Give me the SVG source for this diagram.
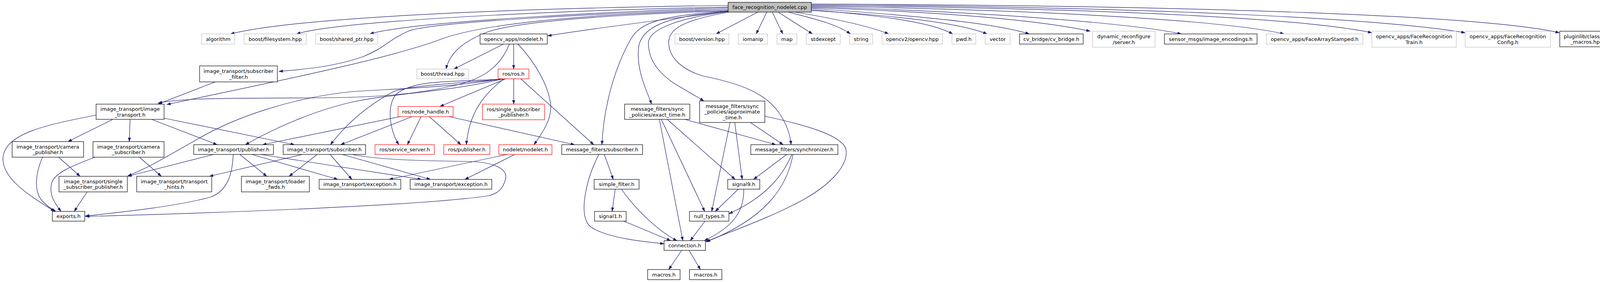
<svg xmlns="http://www.w3.org/2000/svg" width="4141" height="723" viewBox="0 0 4141 723">
<style>
rect{stroke-width:1.2}
.n{fill:#fff;stroke:#000}
.g{fill:#fff;stroke:#bfbfbf}
.r{fill:#fff;stroke:#ff0000}
.root{fill:#bfbfbf;stroke:#000}
text{font-family:"DejaVu Sans","Liberation Sans",sans-serif;font-size:13px;fill:#000;text-anchor:middle}
#edges path{fill:none;stroke:#191970;stroke-width:1.2;marker-end:url(#ah)}
</style>
<defs>
<marker id="ah" markerUnits="userSpaceOnUse" markerWidth="11" markerHeight="8" refX="10" refY="3.5" orient="auto">
<path d="M0,0 L10,3.5 L0,7 z" fill="#191970" stroke="#191970" stroke-width="0.5"/>
</marker>
</defs>
<rect width="4141" height="723" fill="#fff"/>
<g id="edges">
<path d="M1864,14 C1400,20 780,40 590,87"/>
<path d="M1864,18 C1500,25 880,50 759,87"/>
<path d="M1864,20 C1600,28 1050,55 947,87"/>
<path d="M1864,29 C1700,50 1500,75 1402,92"/>
<path d="M1864,23 C1600,32 1100,55 1045,80 C990,105 990,120 930,145 C860,170 780,178 714,183"/>
<path d="M1864,26 C1500,36 1240,60 1130,100 C1000,150 700,210 427,268"/>
<path d="M1864,28 C1500,40 1300,60 1240,85 C1180,110 1150,140 1142,177"/>
<path d="M1864,28 C1700,40 1640,55 1615,100 C1570,180 1545,280 1541,371"/>
<path d="M1866,29 C1730,40 1645,60 1635,120 C1628,180 1655,230 1668,267"/>
<path d="M1866,30 C1740,45 1660,75 1660,110 C1660,150 1680,180 1720,210 C1760,235 1785,248 1802,259"/>
<path d="M1866,31 C1760,50 1715,70 1712,105 C1710,150 1750,180 1800,195 C1900,215 1960,240 1995,290 C2015,320 2023,345 2025,371"/>
<path d="M1940,31 L1833,87"/>
<path d="M1963,31 L1936,87"/>
<path d="M1977,31 L2004,87"/>
<path d="M1992,31 L2080,87"/>
<path d="M2018,31 C2070,45 2140,60 2177,87"/>
<path d="M2035,31 C2120,45 2220,65 2275,87"/>
<path d="M2077,25 C2250,40 2380,55 2439,87"/>
<path d="M2077,27 C2300,40 2460,60 2527,87"/>
<path d="M2077,22 C2350,40 2550,60 2635,87"/>
<path d="M2077,20 C2400,30 2650,50 2791,80"/>
<path d="M2077,18 C2500,28 2900,60 3024,87"/>
<path d="M2077,16 C2700,25 3150,55 3287,87"/>
<path d="M2077,14 C2900,22 3350,50 3512,84"/>
<path d="M2077,12 C3000,18 3550,50 3751,84"/>
<path d="M2077,10 C3100,15 3800,40 3992,84"/>
<path d="M551,210 L404,267"/>
<path d="M1304,113 C1280,175 1230,205 1160,220 C1050,245 950,250 800,251 C600,252 480,250 405,264"/>
<path d="M1289,113 L1162,177"/>
<path d="M1315,113 L1315,177"/>
<path d="M1326,113 C1370,160 1405,220 1410,270 C1412,310 1385,345 1367,371"/>
<path d="M1283,202 C1150,225 1000,228 900,235 C750,250 600,300 500,360 C420,405 380,430 327,451"/>
<path d="M1285,203 C1150,235 1000,240 900,262 C800,285 700,330 628,371"/>
<path d="M1287,203 C1150,215 1050,220 1009,234 C960,260 900,300 846,371"/>
<path d="M1287,203 C1150,210 1060,205 1016,240 C990,265 995,330 1021,371"/>
<path d="M1295,202 L1126,273"/>
<path d="M1315,202 L1315,267"/>
<path d="M1290,202 C1240,240 1200,290 1194,371"/>
<path d="M1333,202 L1520,371"/>
<path d="M1024,299 L672,371"/>
<path d="M1055,299 L872,371"/>
<path d="M1078,299 L1043,371"/>
<path d="M1099,299 L1180,371"/>
<path d="M1150,299 L1471,371"/>
<path d="M246,295 C120,320 20,340 8,400 C0,460 90,510 140,542"/>
<path d="M289,306 L174,363"/>
<path d="M333,306 L331,363"/>
<path d="M388,306 L556,371"/>
<path d="M420,303 L754,371"/>
<path d="M109,403 C92,440 85,490 108,515 C120,528 130,535 143,542"/>
<path d="M150,403 L205,452"/>
<path d="M243,403 C200,420 140,440 132,470 C125,500 140,520 156,542"/>
<path d="M357,403 L413,452"/>
<path d="M223,492 L190,542"/>
<path d="M547,396 L327,452"/>
<path d="M597,396 C595,450 580,490 540,505 C450,530 300,545 218,554"/>
<path d="M614,396 L683,452"/>
<path d="M645,396 L865,460"/>
<path d="M667,396 L1079,460"/>
<path d="M774,396 L536,452"/>
<path d="M812,396 L740,452"/>
<path d="M845,396 L901,460"/>
<path d="M876,396 L1102,460"/>
<path d="M901,396 C960,408 1050,412 1200,414 C1280,416 1300,440 1294,460 C1288,480 1280,495 1250,502 C1100,525 600,545 219,555"/>
<path d="M1298,396 L996,460"/>
<path d="M1318,396 L1190,460"/>
<path d="M1533,396 C1500,460 1480,550 1510,580 C1550,610 1650,620 1700,625"/>
<path d="M1547,396 L1570,460"/>
<path d="M1575,485 L1567,542"/>
<path d="M1591,485 C1640,555 1700,600 1733,617"/>
<path d="M1597,567 L1717,617"/>
<path d="M1890,485 L1831,542"/>
<path d="M1904,485 C1905,540 1880,580 1803,617"/>
<path d="M1805,567 L1767,617"/>
<path d="M1745,642 L1712,691"/>
<path d="M1764,642 L1793,691"/>
<path d="M1688,306 L1748,617"/>
<path d="M1693,306 L1804,542"/>
<path d="M1708,306 L1882,460"/>
<path d="M1753,306 L1986,371"/>
<path d="M1869,314 L1822,542"/>
<path d="M1881,314 L1900,460"/>
<path d="M1921,314 L2005,371"/>
<path d="M1958,298 C2060,320 2150,345 2165,380 C2175,420 2130,470 2060,510 C1980,555 1880,590 1806,620"/>
<path d="M2014,396 L1929,460"/>
<path d="M2027,396 C2000,460 1950,510 1866,548"/>
<path d="M2030,396 C2015,480 1960,560 1808,620"/>
</g>
<g id="node-root"><rect class="root" x="1864" y="6" width="213" height="25"/><text x="1970.5" y="23">face_recognition_nodelet.cpp</text></g>
<g id="node-algorithm"><rect class="g" x="516" y="87" width="85" height="26"/><text x="558.5" y="104.5">algorithm</text></g>
<g id="node-filesystem"><rect class="g" x="625" y="87" width="159" height="26"/><text x="704.5" y="104.5">boost/filesystem.hpp</text></g>
<g id="node-shared-ptr"><rect class="g" x="808" y="87" width="159" height="26"/><text x="887.5" y="104.5">boost/shared_ptr.hpp</text></g>
<g id="node-opencv-nodelet"><rect class="n" x="1229" y="87" width="172" height="26"/><text x="1315" y="104.5">opencv_apps/nodelet.h</text></g>
<g id="node-boost-version"><rect class="g" x="1728" y="87" width="138" height="26"/><text x="1797" y="104.5">boost/version.hpp</text></g>
<g id="node-iomanip"><rect class="g" x="1890" y="87" width="75" height="26"/><text x="1927.5" y="104.5">iomanip</text></g>
<g id="node-map"><rect class="g" x="1989" y="87" width="51" height="26"/><text x="2014.5" y="104.5">map</text></g>
<g id="node-stdexcept"><rect class="g" x="2064" y="87" width="87" height="26"/><text x="2107.5" y="104.5">stdexcept</text></g>
<g id="node-string"><rect class="g" x="2175" y="87" width="59" height="26"/><text x="2204.5" y="104.5">string</text></g>
<g id="node-opencv2"><rect class="g" x="2258" y="87" width="155" height="26"/><text x="2335.5" y="104.5">opencv2/opencv.hpp</text></g>
<g id="node-pwd"><rect class="g" x="2437" y="87" width="61" height="26"/><text x="2467.5" y="104.5">pwd.h</text></g>
<g id="node-vector"><rect class="g" x="2522" y="87" width="64" height="26"/><text x="2554" y="104.5">vector</text></g>
<g id="node-cv-bridge"><rect class="n" x="2610" y="87" width="163" height="26"/><text x="2691.5" y="104.5">cv_bridge/cv_bridge.h</text></g>
<g id="node-dynrec"><rect class="g" x="2797" y="80" width="160" height="41"/><text x="2877" y="98">dynamic_reconfigure</text><text x="2877" y="112.5">/server.h</text></g>
<g id="node-sensor-msgs"><rect class="n" x="2981" y="87" width="237" height="26"/><text x="3099.5" y="104.5">sensor_msgs/image_encodings.h</text></g>
<g id="node-facearray"><rect class="g" x="3242" y="87" width="247" height="26"/><text x="3365.5" y="104.5">opencv_apps/FaceArrayStamped.h</text></g>
<g id="node-facetrain"><rect class="g" x="3512" y="80" width="216" height="41"/><text x="3620" y="98">opencv_apps/FaceRecognition</text><text x="3620" y="112.5">Train.h</text></g>
<g id="node-faceconfig"><rect class="g" x="3751" y="80" width="218" height="41"/><text x="3860" y="98">opencv_apps/FaceRecognition</text><text x="3860" y="112.5">Config.h</text></g>
<g id="node-pluginlib"><rect class="n" x="3993" y="80" width="142" height="40"/><text x="4062" y="97.5">pluginlib/class_list</text><text x="4062" y="112">_macros.hpp</text></g>
<g id="node-subfilter"><rect class="n" x="511" y="169" width="199" height="41"/><text x="610.5" y="187">image_transport/subscriber</text><text x="610.5" y="201.5">_filter.h</text></g>
<g id="node-thread"><rect class="g" x="1067" y="177" width="132" height="25"/><text x="1133" y="194">boost/thread.hpp</text></g>
<g id="node-ros"><rect class="r" x="1275" y="177" width="79" height="25"/><text x="1314.5" y="194">ros/ros.h</text></g>
<g id="node-exact"><rect class="n" x="1599" y="267" width="167" height="39"/><text x="1682.5" y="284">message_filters/sync</text><text x="1682.5" y="298.5">_policies/exact_time.h</text></g>
<g id="node-approx"><rect class="n" x="1791" y="259" width="167" height="55"/><text x="1874.5" y="276.5">message_filters/sync</text><text x="1874.5" y="291">_policies/approximate</text><text x="1874.5" y="305.5">_time.h</text></g>
<g id="node-it"><rect class="n" x="246" y="267" width="174" height="39"/><text x="333" y="284">image_transport/image</text><text x="333" y="298.5">_transport.h</text></g>
<g id="node-nodehandle"><rect class="r" x="1019" y="273" width="141" height="26"/><text x="1089.5" y="290.5">ros/node_handle.h</text></g>
<g id="node-ros-ssp"><rect class="r" x="1235" y="267" width="159" height="40"/><text x="1314.5" y="284.5">ros/single_subscriber</text><text x="1314.5" y="299">_publisher.h</text></g>
<g id="node-campub"><rect class="n" x="31" y="363" width="183" height="40"/><text x="122.5" y="380.5">image_transport/camera</text><text x="122.5" y="395">_publisher.h</text></g>
<g id="node-camsub"><rect class="n" x="238" y="363" width="182" height="40"/><text x="329" y="380.5">image_transport/camera</text><text x="329" y="395">_subscriber.h</text></g>
<g id="node-itpub"><rect class="n" x="496" y="371" width="204" height="25"/><text x="598" y="388">image_transport/publisher.h</text></g>
<g id="node-itsub"><rect class="n" x="725" y="371" width="211" height="25"/><text x="830.5" y="388">image_transport/subscriber.h</text></g>
<g id="node-srvserver"><rect class="r" x="960" y="371" width="152" height="25"/><text x="1036" y="388">ros/service_server.h</text></g>
<g id="node-rospub"><rect class="r" x="1136" y="371" width="118" height="25"/><text x="1195" y="388">ros/publisher.h</text></g>
<g id="node-nodelet"><rect class="r" x="1277" y="371" width="136" height="25"/><text x="1345" y="388">nodelet/nodelet.h</text></g>
<g id="node-mfsub"><rect class="n" x="1438" y="371" width="207" height="25"/><text x="1541.5" y="388">message_filters/subscriber.h</text></g>
<g id="node-sync"><rect class="n" x="1922" y="371" width="223" height="25"/><text x="2033.5" y="388">message_filters/synchronizer.h</text></g>
<g id="node-itssp"><rect class="n" x="151" y="452" width="175" height="40"/><text x="238.5" y="469.5">image_transport/single</text><text x="238.5" y="484">_subscriber_publisher.h</text></g>
<g id="node-hints"><rect class="n" x="350" y="452" width="192" height="40"/><text x="446" y="469.5">image_transport/transport</text><text x="446" y="484">_hints.h</text></g>
<g id="node-loader"><rect class="n" x="618" y="452" width="174" height="40"/><text x="705" y="469.5">image_transport/loader</text><text x="705" y="484">_fwds.h</text></g>
<g id="node-exc1"><rect class="n" x="817" y="460" width="209" height="25"/><text x="921.5" y="477">image_transport/exception.h</text></g>
<g id="node-exc2"><rect class="n" x="1050" y="460" width="209" height="25"/><text x="1154.5" y="477">image_transport/exception.h</text></g>
<g id="node-simplefilter"><rect class="n" x="1521" y="460" width="115" height="25"/><text x="1578.5" y="477">simple_filter.h</text></g>
<g id="node-signal9"><rect class="n" x="1863" y="460" width="82" height="25"/><text x="1904" y="477">signal9.h</text></g>
<g id="node-exports"><rect class="n" x="134" y="542" width="83" height="25"/><text x="175.5" y="559">exports.h</text></g>
<g id="node-signal1"><rect class="n" x="1522" y="542" width="81" height="25"/><text x="1562.5" y="559">signal1.h</text></g>
<g id="node-nulltypes"><rect class="n" x="1765" y="542" width="101" height="25"/><text x="1815.5" y="559">null_types.h</text></g>
<g id="node-connection"><rect class="n" x="1700" y="617" width="106" height="25"/><text x="1753" y="634">connection.h</text></g>
<g id="node-macros1"><rect class="n" x="1658" y="691" width="83" height="26"/><text x="1699.5" y="708.5">macros.h</text></g>
<g id="node-macros2"><rect class="n" x="1765" y="691" width="83" height="26"/><text x="1806.5" y="708.5">macros.h</text></g>
</svg>
